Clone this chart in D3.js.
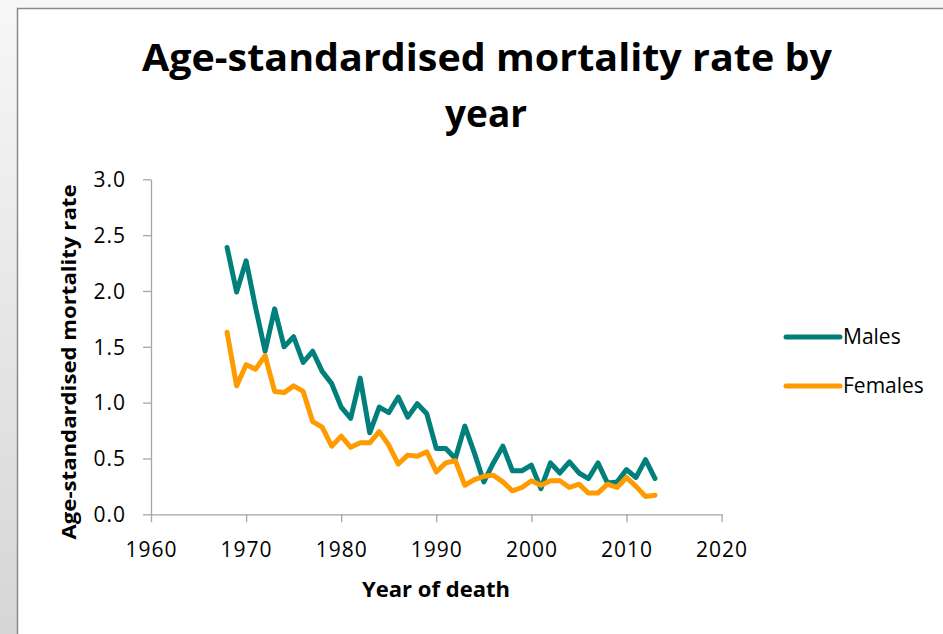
<!DOCTYPE html>
<html lang="en">
<head>
  <meta charset="UTF-8">
  <title>Age-standardised mortality rate by year</title>
  <script src="https://cdn.jsdelivr.net/npm/d3@7.8.5/dist/d3.min.js"></script>
  <style>
    html, body { margin: 0; padding: 0; background: #f7f7f7; }
    svg { display: block; font-family: 'Open Sans', sans-serif; }
  </style>
</head>
<body>
  <svg id="chart"></svg>
  <script>
    // Data
    const years = d3.range(1968, 2014);
    const males = [
      2.39, 1.99, 2.27, 1.85, 1.46, 1.84, 1.50, 1.59, 1.36, 1.46,
      1.28, 1.17, 0.96, 0.86, 1.22, 0.73, 0.96, 0.91, 1.05, 0.87,
      0.99, 0.90, 0.59, 0.59, 0.50, 0.79, 0.55, 0.29, 0.46, 0.61,
      0.39, 0.39, 0.44, 0.23, 0.46, 0.37, 0.47, 0.37, 0.32, 0.46,
      0.28, 0.29, 0.40, 0.33, 0.49, 0.32
    ];
    const females = [
      1.63, 1.15, 1.34, 1.30, 1.42, 1.10, 1.09, 1.15, 1.10, 0.83,
      0.78, 0.61, 0.70, 0.60, 0.64, 0.64, 0.74, 0.62, 0.45, 0.53,
      0.52, 0.56, 0.38, 0.46, 0.48, 0.26, 0.31, 0.34, 0.35, 0.29,
      0.21, 0.24, 0.30, 0.26, 0.30, 0.30, 0.24, 0.27, 0.19, 0.19,
      0.27, 0.24, 0.33, 0.25, 0.16, 0.17
    ];
    const xTicks = [1960, 1970, 1980, 1990, 2000, 2010, 2020];
    const yTicks = [0, 0.5, 1.0, 1.5, 2.0, 2.5, 3.0];
    const series = [
      { name: "Males", values: males, color: "#007f7b" },
      { name: "Females", values: females, color: "#ff9b00" }
    ];

    const W = 943, H = 634;
    const svg = d3.select("#chart").attr("width", W).attr("height", H);

    // frame around the chart area
    const defs = svg.append("defs");
    const grad = defs.append("linearGradient").attr("id", "side")
      .attr("x1", 0).attr("y1", 0).attr("x2", 0).attr("y2", 1);
    grad.append("stop").attr("offset", "0%").attr("stop-color", "#f7f7f7");
    grad.append("stop").attr("offset", "100%").attr("stop-color", "#d6d6d6");
    svg.append("rect").attr("x", 0).attr("y", 0).attr("width", 17).attr("height", H)
      .attr("fill", "url(#side)");
    svg.append("rect").attr("x", 17.5).attr("y", 8.5).attr("width", W).attr("height", H)
      .attr("fill", "#fff").attr("stroke", "#8a8a8a").attr("stroke-width", 1.5);

    const x = d3.scaleLinear().domain([1960, 2020]).range([151, 721.6]);
    const y = d3.scaleLinear().domain([0, 3]).range([514.3, 179.3]);

    const axisColor = "#a6a6a6";

    const gx = svg.append("g").attr("transform", `translate(0,${y(0)})`)
      .call(d3.axisBottom(x).tickValues(xTicks).tickFormat(d3.format("d")).tickSizeInner(8).tickSizeOuter(0));
    const gy = svg.append("g").attr("transform", `translate(${x(1960)},0)`)
      .call(d3.axisLeft(y).tickValues(yTicks).tickFormat(d3.format(".1f")).tickSizeInner(8).tickSizeOuter(0));

    [gx, gy].forEach(g => {
      g.select(".domain").attr("stroke", axisColor).attr("stroke-width", 1.3);
      g.selectAll(".tick line").attr("stroke", axisColor).attr("stroke-width", 1.3);
      g.selectAll(".tick text").attr("fill", "#000").style("font-size", "21px")
        .style("letter-spacing", "1px")
        .style("font-family", "'Open Sans', sans-serif");
    });
    gx.selectAll(".tick text").attr("y", 43).attr("dy", 0);
    gy.selectAll(".tick text").attr("x", -25).attr("dy", "0.35em");

    const line = d3.line()
      .x((d, i) => x(years[i]))
      .y(d => y(d));

    svg.append("g").selectAll("path")
      .data(series)
      .join("path")
      .attr("d", d => line(d.values))
      .attr("fill", "none")
      .attr("stroke", d => d.color)
      .attr("stroke-width", 5)
      .attr("stroke-linejoin", "round")
      .attr("stroke-linecap", "round");

    // title
    const title = svg.append("g").attr("font-weight", "bold").attr("text-anchor", "middle")
      .style("font-size", "37px");
    title.append("text").attr("x", 487).attr("y", 71)
      .attr("textLength", 690).attr("lengthAdjust", "spacingAndGlyphs")
      .text("Age-standardised mortality rate by");
    title.append("text").attr("x", 486).attr("y", 127)
      .attr("textLength", 82).attr("lengthAdjust", "spacingAndGlyphs")
      .text("year");

    // axis titles
    svg.append("text")
      .attr("x", 436).attr("y", 597)
      .attr("text-anchor", "middle").attr("font-weight", "bold")
      .style("font-size", "21px")
      .attr("textLength", 148).attr("lengthAdjust", "spacingAndGlyphs")
      .text("Year of death");
    svg.append("text")
      .attr("transform", "translate(76,362) rotate(-90)")
      .attr("text-anchor", "middle").attr("font-weight", "bold")
      .style("font-size", "20px")
      .attr("textLength", 355).attr("lengthAdjust", "spacingAndGlyphs")
      .text("Age-standardised mortality rate");

    // legend
    const legend = svg.append("g").selectAll("g")
      .data(series)
      .join("g")
      .attr("transform", (d, i) => `translate(786,${337 + i * 49})`);
    legend.append("line")
      .attr("x1", 0).attr("x2", 54)
      .attr("stroke", d => d.color).attr("stroke-width", 5).attr("stroke-linecap", "round");
    legend.append("text")
      .attr("x", 57).attr("dy", "0.35em")
      .style("font-size", "21px")
      .text(d => d.name);
  </script>
</body>
</html>
